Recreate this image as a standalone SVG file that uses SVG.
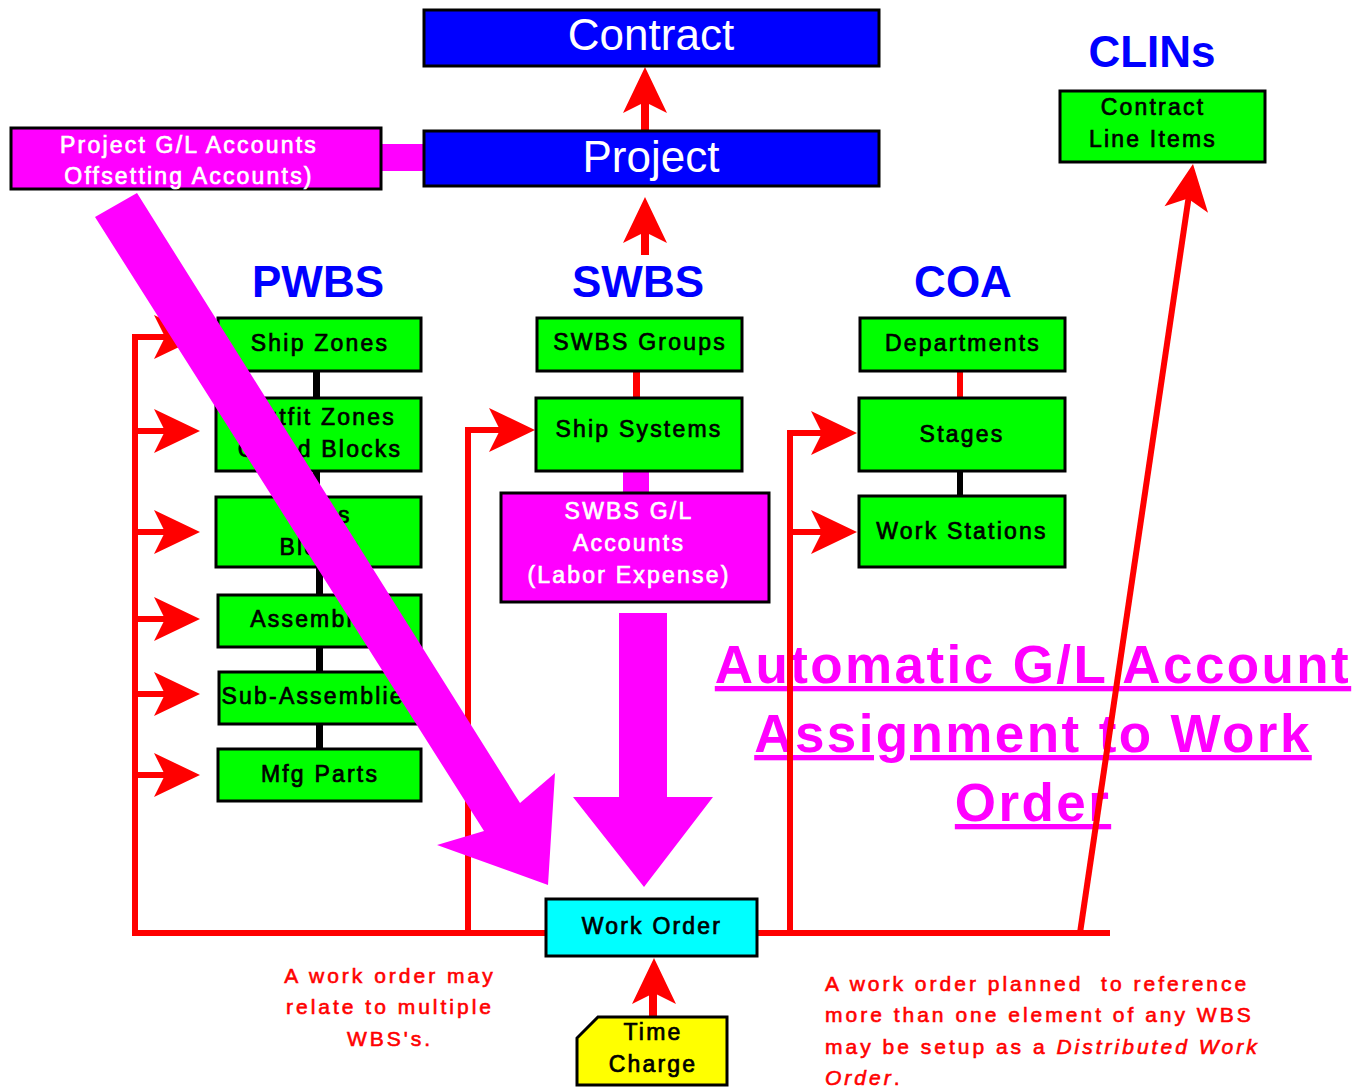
<svg xmlns="http://www.w3.org/2000/svg" xmlns:xlink="http://www.w3.org/1999/xlink" width="1359" height="1088" viewBox="0 0 1359 1088">
  <style>
    .box { stroke: #000; stroke-width: 3; }
    .green { fill: #00FF00; }
    .blue { fill: #0000FF; }
    .mag { fill: #FF00FF; }
    .lbl { font-family: "Liberation Sans", Arial, sans-serif; font-size: 23px; letter-spacing: 2.2px; text-anchor: middle; fill: #000; stroke: #000; stroke-width: 0.7px; }
    .wlbl { fill: #FFFFFF; stroke: #FFFFFF; }
    .big { font-family: "Liberation Sans", Arial, sans-serif; font-size: 44px; text-anchor: middle; fill: #FFFFFF; }
    .head { font-family: "Liberation Sans", Arial, sans-serif; font-weight: bold; font-size: 44px; text-anchor: middle; fill: #0000FF; }
    .note { font-family: "Liberation Sans", Arial, sans-serif; font-size: 21px; letter-spacing: 3px; fill: #FF0000; stroke: #FF0000; stroke-width: 0.6px; white-space: pre; }
    .title { font-family: "Liberation Sans", Arial, sans-serif; font-weight: bold; font-size: 53px; letter-spacing: 2.4px; text-anchor: middle; fill: #FF00FF; text-decoration: underline; }
    .wire { stroke: #FF0000; stroke-width: 6; fill: none; }
    .ah { fill: #FF0000; }
  </style>
  <defs>
    <!-- notched arrowhead, tip at the origin, pointing along +x -->
    <path id="ah" d="M0,0 L-46,-22 L-35,0 L-46,22 Z"/>
  </defs>

  <!-- headline annotation -->
  <g id="gl-assignment-title">
    <text class="title" x="1033" y="683">Automatic G/L Account</text>
    <text class="title" x="1033" y="752">Assignment to Work</text>
    <text class="title" x="1033" y="821">Order</text>
  </g>

  <!-- section headings -->
  <g id="headings">
    <text class="head" x="318" y="297">PWBS</text>
    <text class="head" x="638" y="297">SWBS</text>
    <text class="head" x="963" y="297">COA</text>
    <text class="head" x="1152" y="67">CLINs</text>
  </g>

  <!-- connectors -->
  <g id="connectors">
    <!-- Project -> Contract -->
    <rect x="641" y="100" width="8" height="31" fill="#FF0000"/>
    <use xlink:href="#ah" class="ah" transform="translate(645,67) rotate(-90)"/>
    <!-- SWBS -> Project -->
    <rect x="641" y="228" width="8" height="27" fill="#FF0000"/>
    <use xlink:href="#ah" class="ah" transform="translate(645,197) rotate(-90)"/>
    <!-- Project G/L tie -->
    <rect x="381" y="144" width="43" height="27" fill="#FF00FF"/>

    <!-- PWBS chain links -->
    <rect x="313" y="371" width="7" height="27" fill="#000"/>
    <rect x="313" y="472" width="7" height="25" fill="#000"/>
    <rect x="316" y="567" width="7" height="28" fill="#000"/>
    <rect x="316" y="647" width="7" height="25" fill="#000"/>
    <rect x="316" y="725" width="7" height="24" fill="#000"/>

    <!-- SWBS chain links -->
    <rect x="633" y="372" width="7" height="26" fill="#FF0000"/>
    <rect x="623" y="472" width="26" height="21" fill="#FF00FF"/>

    <!-- COA chain links -->
    <rect x="957" y="372" width="6" height="25" fill="#FF0000"/>
    <rect x="957" y="472" width="6" height="24" fill="#000"/>

    <!-- work order bus -->
    <path class="wire" d="M135,334 V933 H548"/>
    <path class="wire" d="M757,933 H1110"/>
    <path class="wire" d="M135,337 H170 M135,431 H170 M135,532 H170 M135,619 H170 M135,694 H170 M135,775 H170"/>
    <use xlink:href="#ah" class="ah" transform="translate(200,337)"/>
    <use xlink:href="#ah" class="ah" transform="translate(200,431)"/>
    <use xlink:href="#ah" class="ah" transform="translate(200,532)"/>
    <use xlink:href="#ah" class="ah" transform="translate(200,619)"/>
    <use xlink:href="#ah" class="ah" transform="translate(200,694)"/>
    <use xlink:href="#ah" class="ah" transform="translate(200,775)"/>

    <path class="wire" d="M468,933 V430 H505"/>
    <use xlink:href="#ah" class="ah" transform="translate(535,430)"/>

    <path class="wire" d="M790,933 V433 H826 M790,532 H826"/>
    <use xlink:href="#ah" class="ah" transform="translate(857,433)"/>
    <use xlink:href="#ah" class="ah" transform="translate(857,532)"/>

    <!-- Work Order -> CLINs -->
    <path class="wire" d="M1080,933 L1189,195" stroke-width="5"/>
    <use xlink:href="#ah" class="ah" transform="translate(1193,164) rotate(-81.6)"/>

    <!-- Time Charge -> Work Order -->
    <rect x="649" y="988" width="8" height="29" fill="#FF0000"/>
    <use xlink:href="#ah" class="ah" transform="translate(654,958) rotate(-90)"/>
  </g>

  <!-- nodes -->
  <g id="contract">
    <rect class="box blue" x="424" y="10" width="455" height="56"/>
    <text class="big" x="651" y="50">Contract</text>
  </g>
  <g id="project">
    <rect class="box blue" x="424" y="131" width="455" height="55"/>
    <text class="big" x="651" y="172">Project</text>
  </g>
  <g id="project-gl">
    <rect class="box mag" x="11" y="128" width="370" height="61"/>
    <text class="lbl wlbl" x="189" y="153">Project G/L Accounts</text>
    <text class="lbl wlbl" x="189" y="184">Offsetting Accounts)</text>
  </g>
  <g id="clins">
    <rect class="box green" x="1060" y="91" width="205" height="71"/>
    <text class="lbl" x="1153" y="115">Contract</text>
    <text class="lbl" x="1153" y="147">Line Items</text>
  </g>

  <g id="ship-zones">
    <rect class="box green" x="218" y="318" width="203" height="53"/>
    <text class="lbl" x="320" y="351">Ship Zones</text>
  </g>
  <g id="outfit-zones">
    <rect class="box green" x="216" y="398" width="205" height="73"/>
    <text class="lbl" x="320" y="425">Outfit Zones</text>
    <text class="lbl" x="320" y="457">Grand Blocks</text>
  </g>
  <g id="blocks">
    <rect class="box green" x="216" y="497" width="205" height="70"/>
    <text class="lbl" x="320" y="523">Units</text>
    <text class="lbl" x="320" y="555">Blocks</text>
  </g>
  <g id="assemblies">
    <rect class="box green" x="218" y="595" width="203" height="52"/>
    <text class="lbl" x="320" y="627">Assemblies</text>
  </g>
  <g id="sub-assemblies">
    <rect class="box green" x="219" y="672" width="202" height="52"/>
    <text class="lbl" x="320" y="704">Sub-Assemblies</text>
  </g>
  <g id="mfg-parts">
    <rect class="box green" x="218" y="749" width="203" height="52"/>
    <text class="lbl" x="320" y="782">Mfg Parts</text>
  </g>

  <g id="swbs-groups">
    <rect class="box green" x="537" y="318" width="205" height="53"/>
    <text class="lbl" x="640" y="350">SWBS Groups</text>
  </g>
  <g id="ship-systems">
    <rect class="box green" x="536" y="398" width="206" height="73"/>
    <text class="lbl" x="639" y="437">Ship Systems</text>
  </g>
  <g id="swbs-gl">
    <rect class="box mag" x="501" y="493" width="268" height="109"/>
    <text class="lbl wlbl" x="629" y="519">SWBS G/L</text>
    <text class="lbl wlbl" x="629" y="551">Accounts</text>
    <text class="lbl wlbl" x="629" y="583">(Labor Expense)</text>
  </g>

  <g id="departments">
    <rect class="box green" x="860" y="318" width="205" height="53"/>
    <text class="lbl" x="963" y="351">Departments</text>
  </g>
  <g id="stages">
    <rect class="box green" x="859" y="398" width="206" height="73"/>
    <text class="lbl" x="962" y="442">Stages</text>
  </g>
  <g id="work-stations">
    <rect class="box green" x="859" y="496" width="206" height="71"/>
    <text class="lbl" x="962" y="539">Work Stations</text>
  </g>

  <g id="work-order">
    <rect class="box" fill="#00FFFF" x="546" y="899" width="211" height="57"/>
    <text class="lbl" x="652" y="934">Work Order</text>
  </g>
  <g id="time-charge">
    <path class="box" fill="#FFFF00" d="M598,1017 H727 V1085 H577 V1038 Z"/>
    <text class="lbl" x="653" y="1040">Time</text>
    <text class="lbl" x="653" y="1072">Charge</text>
  </g>

  <!-- G/L account flow into the work order -->
  <g id="gl-flow">
    <polygon class="mag" points="95,217 137,193 520,803 555,773 548,885 437,845 484,831"/>
    <polygon class="mag" points="619,613 667,613 667,797 713,797 644,887 573,797 619,797"/>
  </g>

  <!-- notes -->
  <g id="notes">
    <text class="note" x="390" y="983" text-anchor="middle">A work order may</text>
    <text class="note" x="390" y="1014" text-anchor="middle">relate to multiple</text>
    <text class="note" x="390" y="1046" text-anchor="middle">WBS's.</text>
    <text class="note" x="825" y="991">A work order planned  to reference</text>
    <text class="note" x="825" y="1022">more than one element of any WBS</text>
    <text class="note" x="825" y="1054">may be setup as a <tspan font-style="italic">Distributed Work</tspan></text>
    <text class="note" x="825" y="1085"><tspan font-style="italic">Order</tspan>.</text>
  </g>
</svg>
